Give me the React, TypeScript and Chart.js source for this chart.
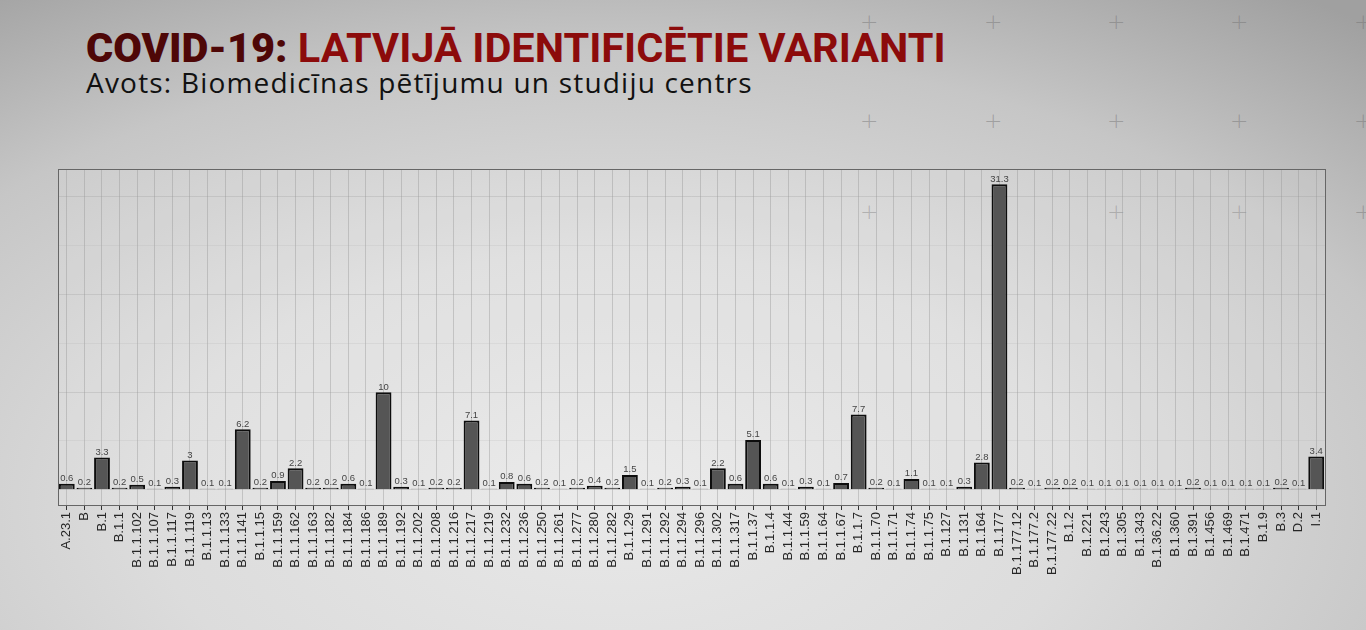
import React, { useEffect, useRef } from "react";
import { Chart, registerables } from "chart.js";

Chart.register(...registerables);

const categories = [
  "A.23.1", "B", "B.1", "B.1.1", "B.1.1.102", "B.1.1.107", "B.1.1.117", "B.1.1.119",
  "B.1.1.13", "B.1.1.133", "B.1.1.141", "B.1.1.15", "B.1.1.159", "B.1.1.162", "B.1.1.163",
  "B.1.1.182", "B.1.1.184", "B.1.1.186", "B.1.1.189", "B.1.1.192", "B.1.1.202", "B.1.1.208",
  "B.1.1.216", "B.1.1.217", "B.1.1.219", "B.1.1.232", "B.1.1.236", "B.1.1.250", "B.1.1.261",
  "B.1.1.277", "B.1.1.280", "B.1.1.282", "B.1.1.29", "B.1.1.291", "B.1.1.292", "B.1.1.294",
  "B.1.1.296", "B.1.1.302", "B.1.1.317", "B.1.1.37", "B.1.1.4", "B.1.1.44", "B.1.1.59",
  "B.1.1.64", "B.1.1.67", "B.1.1.7", "B.1.1.70", "B.1.1.71", "B.1.1.74", "B.1.1.75",
  "B.1.127", "B.1.131", "B.1.164", "B.1.177", "B.1.177.12", "B.1.177.2", "B.1.177.22",
  "B.1.2", "B.1.221", "B.1.243", "B.1.305", "B.1.343", "B.1.36.22", "B.1.360", "B.1.391",
  "B.1.456", "B.1.469", "B.1.471", "B.1.9", "B.3", "D.2", "I.1",
];

const shares = [
  0.6, 0.2, 3.3, 0.2, 0.5, 0.1, 0.3, 3,
  0.1, 0.1, 6.2, 0.2, 0.9, 2.2, 0.2,
  0.2, 0.6, 0.1, 10, 0.3, 0.1, 0.2,
  0.2, 7.1, 0.1, 0.8, 0.6, 0.2, 0.1,
  0.2, 0.4, 0.2, 1.5, 0.1, 0.2, 0.3,
  0.1, 2.2, 0.6, 5.1, 0.6, 0.1, 0.3,
  0.1, 0.7, 7.7, 0.2, 0.1, 1.1, 0.1,
  0.1, 0.3, 2.8, 31.3, 0.2, 0.1, 0.2,
  0.2, 0.1, 0.1, 0.1, 0.1, 0.1, 0.1, 0.2,
  0.1, 0.1, 0.1, 0.1, 0.2, 0.1, 3.4,
];

const gridBreaks = [0, 5, 10, 15, 20, 25, 30];
const majorBreaks = [0, 10, 20, 30];

const titleDark = "COVID-19:";
const titleRed = "LATVIJĀ IDENTIFICĒTIE VARIANTI";
const subtitle = "Avots: Biomedicīnas pētījumu un studiju centrs";

const plusMarks = [
  [868, 22], [992, 22], [1115, 22], [1238, 22], [1362, 22],
  [868, 121], [992, 121], [1115, 121], [1238, 121], [1362, 121],
  [868, 212], [1115, 212], [1238, 212], [1362, 212],
];

export default function App() {
  const canvasRef = useRef<HTMLCanvasElement | null>(null);

  useEffect(() => {
    const canvas = canvasRef.current;
    if (!canvas) return;
    const yMax = Math.max(...shares);
    const pad = yMax * 0.05;

    const panelPlugin = {
      id: "panel",
      beforeDraw(chart: any) {
        const { ctx, chartArea } = chart;
        ctx.save();
        ctx.fillStyle = "rgba(255,255,255,0.12)";
        ctx.fillRect(chartArea.left, chartArea.top, chartArea.right - chartArea.left, chartArea.bottom - chartArea.top);
        ctx.restore();
      },
      afterDraw(chart: any) {
        const { ctx, chartArea } = chart;
        ctx.save();
        ctx.strokeStyle = "#666666";
        ctx.lineWidth = 1;
        ctx.strokeRect(
          Math.round(chartArea.left) + 0.5,
          Math.round(chartArea.top) + 0.5,
          Math.round(chartArea.right - chartArea.left),
          Math.round(chartArea.bottom - chartArea.top)
        );
        ctx.restore();
      },
    };

    const labelPlugin = {
      id: "valueLabels",
      afterDatasetsDraw(chart: any) {
        const { ctx } = chart;
        const meta = chart.getDatasetMeta(0);
        ctx.save();
        ctx.font = "9.5px 'Liberation Sans', Arial, sans-serif";
        ctx.fillStyle = "#444444";
        ctx.textAlign = "center";
        ctx.textBaseline = "bottom";
        meta.data.forEach((bar: any, i: number) => {
          ctx.fillText(String(shares[i]), bar.x, bar.y - 0.5);
        });
        ctx.restore();
      },
    };

    const chart = new Chart(canvas, {
      type: "bar",
      data: {
        labels: categories,
        datasets: [
          {
            data: shares,
            backgroundColor: "#555555",
            borderColor: "#0d0d0d",
            borderWidth: 2,
            barPercentage: 0.9,
            categoryPercentage: 1,
          },
        ],
      },
      options: {
        animation: false,
        responsive: false,
        layout: { padding: { left: 58, right: 41, top: 19, bottom: 0 } },
        plugins: {
          legend: { display: false },
          tooltip: { enabled: false },
        },
        scales: {
          x: {
            offset: true,
            grid: {
              offset: false,
              color: "rgba(150,150,150,0.42)",
              lineWidth: 1,
              tickColor: "#333333",
              tickLength: 5,
              tickWidth: 1,
            },
            border: { display: false },
            ticks: {
              autoSkip: false,
              maxRotation: 90,
              minRotation: 90,
              padding: 2,
              color: "#262626",
              font: { family: "'Liberation Sans', Arial, sans-serif", size: 13 },
            },
            afterFit(scale: any) {
              scale.height = 125;
            },
          },
          y: {
            min: -pad,
            max: yMax + pad,
            afterBuildTicks(scale: any) {
              scale.ticks = gridBreaks.map((v) => ({ value: v }));
            },
            grid: {
              drawTicks: false,
              color: (ctx: any) =>
                majorBreaks.includes(ctx.tick?.value) ? "rgba(150,150,150,0.28)" : "rgba(160,160,160,0.16)",
              lineWidth: 1,
            },
            border: { display: false },
            ticks: { display: false },
            afterFit(scale: any) {
              scale.width = 0;
            },
          },
        },
      },
      plugins: [panelPlugin, labelPlugin],
    });

    return () => chart.destroy();
  }, []);

  return (
    <div
      style={{
        position: "absolute",
        left: 0,
        top: 0,
        width: 1366,
        height: 630,
        overflow: "hidden",
        background:
          "radial-gradient(ellipse 85% 100% at 45% 80%, #e8e8e8 0%, #dcdcdc 40%, #c6c6c6 72%, #a0a0a0 100%)",
      }}
    >
      {plusMarks.map(([x, y], i) => (
        <div
          key={i}
          style={{
            position: "absolute",
            left: x - 8,
            top: y - 12,
            width: 16,
            height: 24,
            font: "300 22px 'DejaVu Sans', sans-serif",
            lineHeight: "24px",
            textAlign: "center",
            color: "rgba(110,110,110,0.45)",
          }}
        >
          +
        </div>
      ))}
      <div
        style={{
          position: "absolute",
          left: 86,
          top: 24,
          whiteSpace: "nowrap",
          fontFamily: "Roboto, 'Noto Sans', sans-serif",
          fontSize: 41.5,
          lineHeight: "48px",
          letterSpacing: "0px",
        }}
      >
        <span style={{ fontWeight: 900, color: "#4e0707" }}>{titleDark}</span>{" "}
        <span style={{ fontWeight: 700, color: "#8c0b0b" }}>{titleRed}</span>
      </div>
      <div
        style={{
          position: "absolute",
          left: 86,
          top: 64,
          whiteSpace: "nowrap",
          fontFamily: "'Open Sans', 'Noto Sans', sans-serif",
          fontSize: 28,
          lineHeight: "36px",
          letterSpacing: "1.2px",
          color: "#111111",
        }}
      >
        {subtitle}
      </div>
      <canvas
        ref={canvasRef}
        width={1366}
        height={480}
        style={{ position: "absolute", left: 0, top: 150, width: 1366, height: 480 }}
      />
    </div>
  );
}
